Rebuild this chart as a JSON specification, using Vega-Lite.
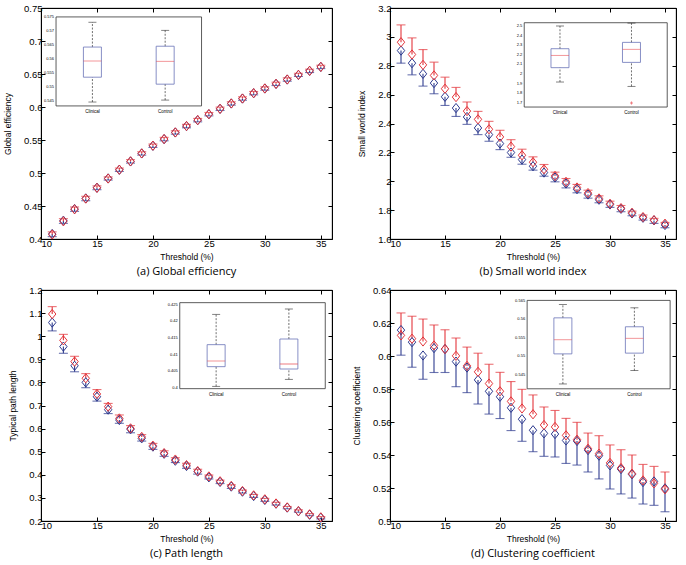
{
"$schema": "https://vega.github.io/schema/vega-lite/v6.json",
"background": "white",
"padding": {"left": 3, "top": 2, "right": 8, "bottom": 3},
"config": {
  "font": "Liberation Sans",
  "view": {"stroke": "#000", "strokeWidth": 0.8},
  "axis": {"grid": false, "domainColor": "#000", "tickColor": "#000", "labelColor": "#000", "titleColor": "#000", "labelFontSize": 9.5, "titleFontSize": 8.5, "titleFontWeight": "normal", "tickSize": -4, "labelPadding": 3, "labelOverlap": false, "labelFont": "Liberation Sans", "titleFont": "Liberation Sans"},
  "axisY": {"titlePadding": 11},
  "axisX": {"titlePadding": 5},
  "title": {"orient": "bottom", "font": "Open Sans", "fontSize": 11, "fontWeight": "normal", "color": "#000", "offset": 5, "anchor": "middle"}
},
"datasets": {
  "a": [
    {"t":11,"g":"Clinical","m":0.4076,"e":0.4036},{"t":11,"g":"Control","m":0.4068,"e":0.4108},
    {"t":12,"g":"Clinical","m":0.4277,"e":0.4237},{"t":12,"g":"Control","m":0.4268,"e":0.4308},
    {"t":13,"g":"Clinical","m":0.4454,"e":0.4419},{"t":13,"g":"Control","m":0.4450,"e":0.4485},
    {"t":14,"g":"Clinical","m":0.4615,"e":0.4580},{"t":14,"g":"Control","m":0.4612,"e":0.4647},
    {"t":15,"g":"Clinical","m":0.4777,"e":0.4747},{"t":15,"g":"Control","m":0.4775,"e":0.4805},
    {"t":16,"g":"Clinical","m":0.4918,"e":0.4893},{"t":16,"g":"Control","m":0.4916,"e":0.4941},
    {"t":17,"g":"Clinical","m":0.5049,"e":0.5024},{"t":17,"g":"Control","m":0.5050,"e":0.5075},
    {"t":18,"g":"Clinical","m":0.5175,"e":0.5150},{"t":18,"g":"Control","m":0.5177,"e":0.5202},
    {"t":19,"g":"Clinical","m":0.5296,"e":0.5271},{"t":19,"g":"Control","m":0.5297,"e":0.5322},
    {"t":20,"g":"Clinical","m":0.5412,"e":0.5387},{"t":20,"g":"Control","m":0.5414,"e":0.5439},
    {"t":21,"g":"Clinical","m":0.5513,"e":0.5488},{"t":21,"g":"Control","m":0.5515,"e":0.5540},
    {"t":22,"g":"Clinical","m":0.5614,"e":0.5589},{"t":22,"g":"Control","m":0.5615,"e":0.5640},
    {"t":23,"g":"Clinical","m":0.5710,"e":0.5685},{"t":23,"g":"Control","m":0.5712,"e":0.5737},
    {"t":24,"g":"Clinical","m":0.5800,"e":0.5775},{"t":24,"g":"Control","m":0.5802,"e":0.5827},
    {"t":25,"g":"Clinical","m":0.5891,"e":0.5866},{"t":25,"g":"Control","m":0.5892,"e":0.5917},
    {"t":26,"g":"Clinical","m":0.5972,"e":0.5947},{"t":26,"g":"Control","m":0.5973,"e":0.5998},
    {"t":27,"g":"Clinical","m":0.6053,"e":0.6028},{"t":27,"g":"Control","m":0.6054,"e":0.6079},
    {"t":28,"g":"Clinical","m":0.6128,"e":0.6103},{"t":28,"g":"Control","m":0.6129,"e":0.6154},
    {"t":29,"g":"Clinical","m":0.6209,"e":0.6184},{"t":29,"g":"Control","m":0.6210,"e":0.6235},
    {"t":30,"g":"Clinical","m":0.6280,"e":0.6255},{"t":30,"g":"Control","m":0.6281,"e":0.6306},
    {"t":31,"g":"Clinical","m":0.6350,"e":0.6325},{"t":31,"g":"Control","m":0.6351,"e":0.6376},
    {"t":32,"g":"Clinical","m":0.6416,"e":0.6391},{"t":32,"g":"Control","m":0.6417,"e":0.6442},
    {"t":33,"g":"Clinical","m":0.6486,"e":0.6461},{"t":33,"g":"Control","m":0.6487,"e":0.6512},
    {"t":34,"g":"Clinical","m":0.6547,"e":0.6522},{"t":34,"g":"Control","m":0.6548,"e":0.6573},
    {"t":35,"g":"Clinical","m":0.6607,"e":0.6582},{"t":35,"g":"Control","m":0.6608,"e":0.6633}
  ],
  "b": [
    {"t":11,"g":"Clinical","m":2.905,"e":2.818},{"t":11,"g":"Control","m":2.963,"e":3.083},
    {"t":12,"g":"Clinical","m":2.818,"e":2.737},{"t":12,"g":"Control","m":2.878,"e":2.993},
    {"t":13,"g":"Clinical","m":2.744,"e":2.659},{"t":13,"g":"Control","m":2.806,"e":2.912},
    {"t":14,"g":"Clinical","m":2.680,"e":2.606},{"t":14,"g":"Control","m":2.733,"e":2.825},
    {"t":15,"g":"Clinical","m":2.585,"e":2.525},{"t":15,"g":"Control","m":2.641,"e":2.721},
    {"t":16,"g":"Clinical","m":2.507,"e":2.449},{"t":16,"g":"Control","m":2.583,"e":2.650},
    {"t":17,"g":"Clinical","m":2.445,"e":2.394},{"t":17,"g":"Control","m":2.486,"e":2.549},
    {"t":18,"g":"Clinical","m":2.369,"e":2.323},{"t":18,"g":"Control","m":2.429,"e":2.484},
    {"t":19,"g":"Clinical","m":2.323,"e":2.277},{"t":19,"g":"Control","m":2.360,"e":2.415},
    {"t":20,"g":"Clinical","m":2.261,"e":2.219},{"t":20,"g":"Control","m":2.307,"e":2.353},
    {"t":21,"g":"Clinical","m":2.199,"e":2.166},{"t":21,"g":"Control","m":2.240,"e":2.288},
    {"t":22,"g":"Clinical","m":2.150,"e":2.118},{"t":22,"g":"Control","m":2.180,"e":2.222},
    {"t":23,"g":"Clinical","m":2.104,"e":2.077},{"t":23,"g":"Control","m":2.132,"e":2.169},
    {"t":24,"g":"Clinical","m":2.060,"e":2.035},{"t":24,"g":"Control","m":2.083,"e":2.116},
    {"t":25,"g":"Clinical","m":2.026,"e":1.996},{"t":25,"g":"Control","m":2.037,"e":2.063},
    {"t":26,"g":"Clinical","m":1.984,"e":1.954},{"t":26,"g":"Control","m":1.996,"e":2.019},
    {"t":27,"g":"Clinical","m":1.945,"e":1.920},{"t":27,"g":"Control","m":1.957,"e":1.978},
    {"t":28,"g":"Clinical","m":1.908,"e":1.883},{"t":28,"g":"Control","m":1.918,"e":1.938},
    {"t":29,"g":"Clinical","m":1.872,"e":1.851},{"t":29,"g":"Control","m":1.881,"e":1.899},
    {"t":30,"g":"Clinical","m":1.839,"e":1.819},{"t":30,"g":"Control","m":1.844,"e":1.862},
    {"t":31,"g":"Clinical","m":1.809,"e":1.789},{"t":31,"g":"Control","m":1.814,"e":1.832},
    {"t":32,"g":"Clinical","m":1.777,"e":1.761},{"t":32,"g":"Control","m":1.782,"e":1.793},
    {"t":33,"g":"Clinical","m":1.747,"e":1.731},{"t":33,"g":"Control","m":1.752,"e":1.766},
    {"t":34,"g":"Clinical","m":1.729,"e":1.708},{"t":34,"g":"Control","m":1.731,"e":1.743},
    {"t":35,"g":"Clinical","m":1.697,"e":1.678},{"t":35,"g":"Control","m":1.706,"e":1.715}
  ],
  "c": [
    {"t":11,"g":"Clinical","m":1.059,"e":1.023},{"t":11,"g":"Control","m":1.096,"e":1.128},
    {"t":12,"g":"Clinical","m":0.955,"e":0.926},{"t":12,"g":"Control","m":0.982,"e":1.008},
    {"t":13,"g":"Clinical","m":0.872,"e":0.846},{"t":13,"g":"Control","m":0.890,"e":0.913},
    {"t":14,"g":"Clinical","m":0.800,"e":0.777},{"t":14,"g":"Control","m":0.818,"e":0.838},
    {"t":15,"g":"Clinical","m":0.738,"e":0.719},{"t":15,"g":"Control","m":0.750,"e":0.769},
    {"t":16,"g":"Clinical","m":0.682,"e":0.665},{"t":16,"g":"Control","m":0.695,"e":0.709},
    {"t":17,"g":"Clinical","m":0.637,"e":0.623},{"t":17,"g":"Control","m":0.644,"e":0.659},
    {"t":18,"g":"Clinical","m":0.597,"e":0.582},{"t":18,"g":"Control","m":0.601,"e":0.613},
    {"t":19,"g":"Clinical","m":0.558,"e":0.546},{"t":19,"g":"Control","m":0.564,"e":0.574},
    {"t":20,"g":"Clinical","m":0.522,"e":0.510},{"t":20,"g":"Control","m":0.526,"e":0.536},
    {"t":21,"g":"Clinical","m":0.491,"e":0.480},{"t":21,"g":"Control","m":0.494,"e":0.504},
    {"t":22,"g":"Clinical","m":0.461,"e":0.453},{"t":22,"g":"Control","m":0.466,"e":0.474},
    {"t":23,"g":"Clinical","m":0.438,"e":0.428},{"t":23,"g":"Control","m":0.442,"e":0.450},
    {"t":24,"g":"Clinical","m":0.414,"e":0.403},{"t":24,"g":"Control","m":0.416,"e":0.424},
    {"t":25,"g":"Clinical","m":0.389,"e":0.382},{"t":25,"g":"Control","m":0.393,"e":0.399},
    {"t":26,"g":"Clinical","m":0.369,"e":0.362},{"t":26,"g":"Control","m":0.372,"e":0.377},
    {"t":27,"g":"Clinical","m":0.349,"e":0.341},{"t":27,"g":"Control","m":0.352,"e":0.357},
    {"t":28,"g":"Clinical","m":0.327,"e":0.321},{"t":28,"g":"Control","m":0.330,"e":0.334},
    {"t":29,"g":"Clinical","m":0.308,"e":0.302},{"t":29,"g":"Control","m":0.311,"e":0.315},
    {"t":30,"g":"Clinical","m":0.291,"e":0.285},{"t":30,"g":"Control","m":0.294,"e":0.298},
    {"t":31,"g":"Clinical","m":0.275,"e":0.269},{"t":31,"g":"Control","m":0.276,"e":0.281},
    {"t":32,"g":"Clinical","m":0.258,"e":0.253},{"t":32,"g":"Control","m":0.259,"e":0.263},
    {"t":33,"g":"Clinical","m":0.242,"e":0.238},{"t":33,"g":"Control","m":0.243,"e":0.248},
    {"t":34,"g":"Clinical","m":0.227,"e":0.223},{"t":34,"g":"Control","m":0.229,"e":0.232},
    {"t":35,"g":"Clinical","m":0.214,"e":0.209},{"t":35,"g":"Control","m":0.216,"e":0.219}
  ],
  "d": [
    {"t":11,"g":"Clinical","m":0.6157,"e":0.6005},{"t":11,"g":"Control","m":0.6125,"e":0.6261},
    {"t":12,"g":"Clinical","m":0.6084,"e":0.5932},{"t":12,"g":"Control","m":0.6105,"e":0.6241},
    {"t":13,"g":"Clinical","m":0.6003,"e":0.5859},{"t":13,"g":"Control","m":0.6088,"e":0.6224},
    {"t":14,"g":"Clinical","m":0.6048,"e":0.5900},{"t":14,"g":"Control","m":0.6064,"e":0.6188},
    {"t":15,"g":"Clinical","m":0.6042,"e":0.5900},{"t":15,"g":"Control","m":0.6042,"e":0.6159},
    {"t":16,"g":"Clinical","m":0.5966,"e":0.5814},{"t":16,"g":"Control","m":0.6001,"e":0.6109},
    {"t":17,"g":"Clinical","m":0.5930,"e":0.5778},{"t":17,"g":"Control","m":0.5940,"e":0.6054},
    {"t":18,"g":"Clinical","m":0.5855,"e":0.5709},{"t":18,"g":"Control","m":0.5904,"e":0.6017},
    {"t":19,"g":"Clinical","m":0.5786,"e":0.5648},{"t":19,"g":"Control","m":0.5833,"e":0.5950},
    {"t":20,"g":"Clinical","m":0.5753,"e":0.5621},{"t":20,"g":"Control","m":0.5786,"e":0.5901},
    {"t":21,"g":"Clinical","m":0.5686,"e":0.5548},{"t":21,"g":"Control","m":0.5725,"e":0.5845},
    {"t":22,"g":"Clinical","m":0.5617,"e":0.5483},{"t":22,"g":"Control","m":0.5682,"e":0.5798},
    {"t":23,"g":"Clinical","m":0.5550,"e":0.5420},{"t":23,"g":"Control","m":0.5647,"e":0.5764},
    {"t":24,"g":"Clinical","m":0.5531,"e":0.5392},{"t":24,"g":"Control","m":0.5582,"e":0.5691},
    {"t":25,"g":"Clinical","m":0.5527,"e":0.5388},{"t":25,"g":"Control","m":0.5570,"e":0.5670},
    {"t":26,"g":"Clinical","m":0.5488,"e":0.5349},{"t":26,"g":"Control","m":0.5519,"e":0.5622},
    {"t":27,"g":"Clinical","m":0.5485,"e":0.5339},{"t":27,"g":"Control","m":0.5493,"e":0.5598},
    {"t":28,"g":"Clinical","m":0.5430,"e":0.5297},{"t":28,"g":"Control","m":0.5438,"e":0.5533},
    {"t":29,"g":"Clinical","m":0.5396,"e":0.5255},{"t":29,"g":"Control","m":0.5408,"e":0.5517},
    {"t":30,"g":"Clinical","m":0.5337,"e":0.5194},{"t":30,"g":"Control","m":0.5352,"e":0.5461},
    {"t":31,"g":"Clinical","m":0.5315,"e":0.5164},{"t":31,"g":"Control","m":0.5321,"e":0.5432},
    {"t":32,"g":"Clinical","m":0.5283,"e":0.5139},{"t":32,"g":"Control","m":0.5287,"e":0.5400},
    {"t":33,"g":"Clinical","m":0.5236,"e":0.5103},{"t":33,"g":"Control","m":0.5246,"e":0.5343},
    {"t":34,"g":"Clinical","m":0.5240,"e":0.5095},{"t":34,"g":"Control","m":0.5228,"e":0.5331},
    {"t":35,"g":"Clinical","m":0.5198,"e":0.5056},{"t":35,"g":"Control","m":0.5192,"e":0.5297}
  ],
  "boxA": [{"g":"Clinical","lo":0.5445,"q1":0.5534,"med":0.5592,"q3":0.5642,"hi":0.5731},{"g":"Control","lo":0.5452,"q1":0.5509,"med":0.5591,"q3":0.5645,"hi":0.5702}],
  "boxB": [{"g":"Clinical","lo":1.918,"q1":2.067,"med":2.195,"q3":2.264,"hi":2.50},{"g":"Control","lo":1.873,"q1":2.122,"med":2.258,"q3":2.330,"hi":2.530}],
  "boxC": [{"g":"Clinical","lo":0.4005,"q1":0.4064,"med":0.4081,"q3":0.4130,"hi":0.4221},{"g":"Control","lo":0.4026,"q1":0.4057,"med":0.4072,"q3":0.4147,"hi":0.4237}],
  "boxD": [{"g":"Clinical","lo":0.5426,"q1":0.5507,"med":0.5545,"q3":0.5604,"hi":0.5640},{"g":"Control","lo":0.5462,"q1":0.5509,"med":0.5549,"q3":0.5580,"hi":0.5631}],
  "outB": [{"g":"Control","v":1.70}],
  "tkA": [{"v":0.545},{"v":0.55},{"v":0.555},{"v":0.56},{"v":0.565},{"v":0.57},{"v":0.575}],
  "tkB": [{"v":1.7},{"v":1.8},{"v":1.9},{"v":2},{"v":2.1},{"v":2.2},{"v":2.3},{"v":2.4},{"v":2.5}],
  "tkC": [{"v":0.4},{"v":0.405},{"v":0.41},{"v":0.415},{"v":0.42},{"v":0.425}],
  "tkD": [{"v":0.545},{"v":0.55},{"v":0.555},{"v":0.56},{"v":0.565}]
},
"columns": 2,
"spacing": {"row": 6, "column": 19},
"concat": [
 {
  "width": 291, "height": 231,
  "title": {"text": "(a) Global efficiency"},
  "resolve": {"scale": {"x": "independent", "y": "independent"}},
  "layer": [
   {
    "data": {"name": "a"},
    "encoding": {
      "color": {"field": "g", "type": "nominal", "scale": {"domain": ["Clinical","Control"], "range": ["#2e3b8f","#e3353b"]}, "legend": null}
    },
    "resolve": {"axis": {"x": "independent", "y": "independent"}},
    "layer": [
      {"mark": {"type": "rule", "strokeWidth": 1.1}, "encoding": {
        "x": {"field": "t", "type": "quantitative", "scale": {"domain": [10, 36], "nice": false}, "axis": {"values": [10,15,20,25,30,35], "title": "Threshold (%)"}},
        "y": {"field": "m", "type": "quantitative", "scale": {"domain": [0.4, 0.75], "nice": false, "zero": false}, "axis": {"values": [0.4,0.45,0.5,0.55,0.6,0.65,0.7,0.75], "format": "~g", "title": "Global efficiency"}}, "y2": {"field": "e"}}},
      {"mark": {"type": "tick", "orient": "horizontal", "size": 9, "thickness": 1.1}, "encoding": {
        "x": {"field": "t", "type": "quantitative", "axis": {"orient": "top", "values": [10,15,20,25,30,35], "labels": false, "title": null}},
        "y": {"field": "e", "type": "quantitative", "axis": {"orient": "right", "values": [0.4,0.45,0.5,0.55,0.6,0.65,0.7,0.75], "labels": false, "title": null}}}},
      {"mark": {"type": "point", "shape": "M-0.8,0L0,-1L0.8,0L0,1Z", "filled": false, "size": 85, "strokeWidth": 1, "opacity": 1}, "encoding": {
        "x": {"field": "t", "type": "quantitative", "axis": null},
        "y": {"field": "m", "type": "quantitative", "axis": null}}}
    ]
   },
   {
    "layer": [
      {"data": {"values": [{}]}, "mark": {"type": "rect", "fill": "white", "stroke": "#333", "strokeWidth": 0.8},
       "encoding": {
        "x": {"datum": "Clinical", "type": "nominal", "bandPosition": 0, "scale": {"type": "band", "domain": ["Clinical","Control"], "paddingInner": 0, "paddingOuter": 1.487, "align": 0.1034}, "axis": null},
        "x2": {"datum": "Control", "bandPosition": 1},
        "y": {"datum": 0.575, "type": "quantitative", "scale": {"domain": [0.4954, 0.5782], "nice": false, "zero": false}, "axis": null},
        "y2": {"datum": 0.5431}}},
      {"data": {"name": "tkA"}, "mark": {"type": "text", "align": "right", "dx": -2, "fontSize": 4, "baseline": "middle"},
       "encoding": {"x": {"datum": "Clinical", "type": "nominal", "bandPosition": 0, "axis": null}, "y": {"field": "v", "type": "quantitative", "axis": null}, "text": {"field": "v", "type": "nominal"}}},
      {"data": {"name": "boxA"},
       "encoding": {"x": {"field": "g", "type": "nominal", "axis": null}},
       "layer": [
         {"mark": {"type": "rule", "color": "#333", "strokeDash": [2,1.5], "strokeWidth": 0.7}, "encoding": {"y": {"field": "q3", "type": "quantitative", "axis": null}, "y2": {"field": "hi"}}},
         {"mark": {"type": "rule", "color": "#333", "strokeDash": [2,1.5], "strokeWidth": 0.7}, "encoding": {"y": {"field": "lo", "type": "quantitative", "axis": null}, "y2": {"field": "q1"}}},
         {"mark": {"type": "tick", "orient": "horizontal", "size": 8, "thickness": 0.8, "color": "#222"}, "encoding": {"y": {"field": "hi", "type": "quantitative", "axis": null}}},
         {"mark": {"type": "tick", "orient": "horizontal", "size": 8, "thickness": 0.8, "color": "#222"}, "encoding": {"y": {"field": "lo", "type": "quantitative", "axis": null}}},
         {"mark": {"type": "bar", "width": 18, "fill": "white", "fillOpacity": 0, "stroke": "#6a74b8", "strokeWidth": 0.8}, "encoding": {"y": {"field": "q1", "type": "quantitative", "axis": null}, "y2": {"field": "q3"}}},
         {"mark": {"type": "tick", "orient": "horizontal", "size": 18, "thickness": 0.8, "color": "#e8454a"}, "encoding": {"y": {"field": "med", "type": "quantitative", "axis": null}}},
         {"mark": {"type": "text", "fontSize": 4.5, "baseline": "top", "dy": 3}, "encoding": {"y": {"datum": 0.5431, "type": "quantitative", "axis": null}, "text": {"field": "g"}}}
       ]}
    ]
   }
  ]
 },
 {
  "width": 286, "height": 231,
  "title": {"text": "(b) Small world index"},
  "resolve": {"scale": {"x": "independent", "y": "independent"}},
  "layer": [
   {
    "data": {"name": "b"},
    "encoding": {
      "color": {"field": "g", "type": "nominal", "scale": {"domain": ["Clinical","Control"], "range": ["#2e3b8f","#e3353b"]}, "legend": null}
    },
    "resolve": {"axis": {"x": "independent", "y": "independent"}},
    "layer": [
      {"mark": {"type": "rule", "strokeWidth": 1.1}, "encoding": {
        "x": {"field": "t", "type": "quantitative", "scale": {"domain": [10, 36], "nice": false}, "axis": {"values": [10,15,20,25,30,35], "title": "Threshold (%)"}},
        "y": {"field": "m", "type": "quantitative", "scale": {"domain": [1.6, 3.2], "nice": false, "zero": false}, "axis": {"values": [1.6,1.8,2,2.2,2.4,2.6,2.8,3,3.2], "format": "~g", "title": "Small world index"}}, "y2": {"field": "e"}}},
      {"mark": {"type": "tick", "orient": "horizontal", "size": 9, "thickness": 1.1}, "encoding": {
        "x": {"field": "t", "type": "quantitative", "axis": {"orient": "top", "values": [10,15,20,25,30,35], "labels": false, "title": null}},
        "y": {"field": "e", "type": "quantitative", "axis": {"orient": "right", "values": [1.6,1.8,2,2.2,2.4,2.6,2.8,3,3.2], "labels": false, "title": null}}}},
      {"mark": {"type": "point", "shape": "M-0.8,0L0,-1L0.8,0L0,1Z", "filled": false, "size": 85, "strokeWidth": 1, "opacity": 1}, "encoding": {
        "x": {"field": "t", "type": "quantitative", "axis": null},
        "y": {"field": "m", "type": "quantitative", "axis": null}}}
    ]
   },
   {
    "layer": [
      {"data": {"values": [{}]}, "mark": {"type": "rect", "fill": "white", "stroke": "#333", "strokeWidth": 0.8},
       "encoding": {
        "x": {"datum": "Clinical", "type": "nominal", "bandPosition": 0, "scale": {"type": "band", "domain": ["Clinical","Control"], "paddingInner": 0, "paddingOuter": 1.325, "align": 0.9387}, "axis": null},
        "x2": {"datum": "Control", "bandPosition": 1},
        "y": {"datum": 2.534, "type": "quantitative", "scale": {"domain": [0.287, 2.687], "nice": false, "zero": false}, "axis": null},
        "y2": {"datum": 1.658}}},
      {"data": {"name": "tkB"}, "mark": {"type": "text", "align": "right", "dx": -2, "fontSize": 4, "baseline": "middle"},
       "encoding": {"x": {"datum": "Clinical", "type": "nominal", "bandPosition": 0, "axis": null}, "y": {"field": "v", "type": "quantitative", "axis": null}, "text": {"field": "v", "type": "nominal"}}},
      {"data": {"name": "outB"}, "mark": {"type": "point", "shape": "cross", "size": 8, "color": "#e8454a", "filled": true},
       "encoding": {"x": {"field": "g", "type": "nominal", "axis": null}, "y": {"field": "v", "type": "quantitative", "axis": null}}},
      {"data": {"name": "boxB"},
       "encoding": {"x": {"field": "g", "type": "nominal", "axis": null}},
       "layer": [
         {"mark": {"type": "rule", "color": "#333", "strokeDash": [2,1.5], "strokeWidth": 0.7}, "encoding": {"y": {"field": "q3", "type": "quantitative", "axis": null}, "y2": {"field": "hi"}}},
         {"mark": {"type": "rule", "color": "#333", "strokeDash": [2,1.5], "strokeWidth": 0.7}, "encoding": {"y": {"field": "lo", "type": "quantitative", "axis": null}, "y2": {"field": "q1"}}},
         {"mark": {"type": "tick", "orient": "horizontal", "size": 8, "thickness": 0.8, "color": "#222"}, "encoding": {"y": {"field": "hi", "type": "quantitative", "axis": null}}},
         {"mark": {"type": "tick", "orient": "horizontal", "size": 8, "thickness": 0.8, "color": "#222"}, "encoding": {"y": {"field": "lo", "type": "quantitative", "axis": null}}},
         {"mark": {"type": "bar", "width": 18, "fill": "white", "fillOpacity": 0, "stroke": "#6a74b8", "strokeWidth": 0.8}, "encoding": {"y": {"field": "q1", "type": "quantitative", "axis": null}, "y2": {"field": "q3"}}},
         {"mark": {"type": "tick", "orient": "horizontal", "size": 18, "thickness": 0.8, "color": "#e8454a"}, "encoding": {"y": {"field": "med", "type": "quantitative", "axis": null}}},
         {"mark": {"type": "text", "fontSize": 4.5, "baseline": "top", "dy": 3}, "encoding": {"y": {"datum": 1.658, "type": "quantitative", "axis": null}, "text": {"field": "g"}}}
       ]}
    ]
   }
  ]
 },
 {
  "width": 291, "height": 231,
  "title": {"text": "(c) Path length"},
  "resolve": {"scale": {"x": "independent", "y": "independent"}},
  "layer": [
   {
    "data": {"name": "c"},
    "encoding": {
      "color": {"field": "g", "type": "nominal", "scale": {"domain": ["Clinical","Control"], "range": ["#2e3b8f","#e3353b"]}, "legend": null}
    },
    "resolve": {"axis": {"x": "independent", "y": "independent"}},
    "layer": [
      {"mark": {"type": "rule", "strokeWidth": 1.1}, "encoding": {
        "x": {"field": "t", "type": "quantitative", "scale": {"domain": [10, 36], "nice": false}, "axis": {"values": [10,15,20,25,30,35], "title": "Threshold (%)"}},
        "y": {"field": "m", "type": "quantitative", "scale": {"domain": [0.2, 1.2], "nice": false, "zero": false}, "axis": {"values": [0.2,0.3,0.4,0.5,0.6,0.7,0.8,0.9,1,1.1,1.2], "format": "~g", "title": "Typical path length"}}, "y2": {"field": "e"}}},
      {"mark": {"type": "tick", "orient": "horizontal", "size": 9, "thickness": 1.1}, "encoding": {
        "x": {"field": "t", "type": "quantitative", "axis": {"orient": "top", "values": [10,15,20,25,30,35], "labels": false, "title": null}},
        "y": {"field": "e", "type": "quantitative", "axis": {"orient": "right", "values": [0.2,0.3,0.4,0.5,0.6,0.7,0.8,0.9,1,1.1,1.2], "labels": false, "title": null}}}},
      {"mark": {"type": "point", "shape": "M-0.8,0L0,-1L0.8,0L0,1Z", "filled": false, "size": 85, "strokeWidth": 1, "opacity": 1}, "encoding": {
        "x": {"field": "t", "type": "quantitative", "axis": null},
        "y": {"field": "m", "type": "quantitative", "axis": null}}}
    ]
   },
   {
    "layer": [
      {"data": {"values": [{}]}, "mark": {"type": "rect", "fill": "white", "stroke": "#333", "strokeWidth": 0.8},
       "encoding": {
        "x": {"datum": "Clinical", "type": "nominal", "bandPosition": 0, "scale": {"type": "band", "domain": ["Clinical","Control"], "paddingInner": 0, "paddingOuter": 1.46, "align": 0.9537}, "axis": null},
        "x2": {"datum": "Control", "bandPosition": 1},
        "y": {"datum": 0.4256, "type": "quantitative", "scale": {"domain": [0.3601, 0.4294], "nice": false, "zero": false}, "axis": null},
        "y2": {"datum": 0.3998}}},
      {"data": {"name": "tkC"}, "mark": {"type": "text", "align": "right", "dx": -2, "fontSize": 4, "baseline": "middle"},
       "encoding": {"x": {"datum": "Clinical", "type": "nominal", "bandPosition": 0, "axis": null}, "y": {"field": "v", "type": "quantitative", "axis": null}, "text": {"field": "v", "type": "nominal"}}},
      {"data": {"name": "boxC"},
       "encoding": {"x": {"field": "g", "type": "nominal", "axis": null}},
       "layer": [
         {"mark": {"type": "rule", "color": "#333", "strokeDash": [2,1.5], "strokeWidth": 0.7}, "encoding": {"y": {"field": "q3", "type": "quantitative", "axis": null}, "y2": {"field": "hi"}}},
         {"mark": {"type": "rule", "color": "#333", "strokeDash": [2,1.5], "strokeWidth": 0.7}, "encoding": {"y": {"field": "lo", "type": "quantitative", "axis": null}, "y2": {"field": "q1"}}},
         {"mark": {"type": "tick", "orient": "horizontal", "size": 8, "thickness": 0.8, "color": "#222"}, "encoding": {"y": {"field": "hi", "type": "quantitative", "axis": null}}},
         {"mark": {"type": "tick", "orient": "horizontal", "size": 8, "thickness": 0.8, "color": "#222"}, "encoding": {"y": {"field": "lo", "type": "quantitative", "axis": null}}},
         {"mark": {"type": "bar", "width": 18, "fill": "white", "fillOpacity": 0, "stroke": "#6a74b8", "strokeWidth": 0.8}, "encoding": {"y": {"field": "q1", "type": "quantitative", "axis": null}, "y2": {"field": "q3"}}},
         {"mark": {"type": "tick", "orient": "horizontal", "size": 18, "thickness": 0.8, "color": "#e8454a"}, "encoding": {"y": {"field": "med", "type": "quantitative", "axis": null}}},
         {"mark": {"type": "text", "fontSize": 4.5, "baseline": "top", "dy": 3}, "encoding": {"y": {"datum": 0.3998, "type": "quantitative", "axis": null}, "text": {"field": "g"}}}
       ]}
    ]
   }
  ]
 },
 {
  "width": 286, "height": 231,
  "title": {"text": "(d) Clustering coefficient"},
  "resolve": {"scale": {"x": "independent", "y": "independent"}},
  "layer": [
   {
    "data": {"name": "d"},
    "encoding": {
      "color": {"field": "g", "type": "nominal", "scale": {"domain": ["Clinical","Control"], "range": ["#2e3b8f","#e3353b"]}, "legend": null}
    },
    "resolve": {"axis": {"x": "independent", "y": "independent"}},
    "layer": [
      {"mark": {"type": "rule", "strokeWidth": 1.1}, "encoding": {
        "x": {"field": "t", "type": "quantitative", "scale": {"domain": [10, 36], "nice": false}, "axis": {"values": [10,15,20,25,30,35], "title": "Threshold (%)"}},
        "y": {"field": "m", "type": "quantitative", "scale": {"domain": [0.5, 0.64], "nice": false, "zero": false}, "axis": {"values": [0.5,0.52,0.54,0.56,0.58,0.6,0.62,0.64], "format": "~g", "title": "Clustering coefficient"}}, "y2": {"field": "e"}}},
      {"mark": {"type": "tick", "orient": "horizontal", "size": 9, "thickness": 1.1}, "encoding": {
        "x": {"field": "t", "type": "quantitative", "axis": {"orient": "top", "values": [10,15,20,25,30,35], "labels": false, "title": null}},
        "y": {"field": "e", "type": "quantitative", "axis": {"orient": "right", "values": [0.5,0.52,0.54,0.56,0.58,0.6,0.62,0.64], "labels": false, "title": null}}}},
      {"mark": {"type": "point", "shape": "M-0.8,0L0,-1L0.8,0L0,1Z", "filled": false, "size": 85, "strokeWidth": 1, "opacity": 1}, "encoding": {
        "x": {"field": "t", "type": "quantitative", "axis": null},
        "y": {"field": "m", "type": "quantitative", "axis": null}}}
    ]
   },
   {
    "layer": [
      {"data": {"values": [{}]}, "mark": {"type": "rect", "fill": "white", "stroke": "#333", "strokeWidth": 0.8},
       "encoding": {
        "x": {"datum": "Clinical", "type": "nominal", "bandPosition": 0, "scale": {"type": "band", "domain": ["Clinical","Control"], "paddingInner": 0, "paddingOuter": 1.487, "align": 0.959}, "axis": null},
        "x2": {"datum": "Control", "bandPosition": 1},
        "y": {"datum": 0.5651, "type": "quantitative", "scale": {"domain": [0.5057, 0.5679], "nice": false, "zero": false}, "axis": null},
        "y2": {"datum": 0.5413}}},
      {"data": {"name": "tkD"}, "mark": {"type": "text", "align": "right", "dx": -2, "fontSize": 4, "baseline": "middle"},
       "encoding": {"x": {"datum": "Clinical", "type": "nominal", "bandPosition": 0, "axis": null}, "y": {"field": "v", "type": "quantitative", "axis": null}, "text": {"field": "v", "type": "nominal"}}},
      {"data": {"name": "boxD"},
       "encoding": {"x": {"field": "g", "type": "nominal", "axis": null}},
       "layer": [
         {"mark": {"type": "rule", "color": "#333", "strokeDash": [2,1.5], "strokeWidth": 0.7}, "encoding": {"y": {"field": "q3", "type": "quantitative", "axis": null}, "y2": {"field": "hi"}}},
         {"mark": {"type": "rule", "color": "#333", "strokeDash": [2,1.5], "strokeWidth": 0.7}, "encoding": {"y": {"field": "lo", "type": "quantitative", "axis": null}, "y2": {"field": "q1"}}},
         {"mark": {"type": "tick", "orient": "horizontal", "size": 8, "thickness": 0.8, "color": "#222"}, "encoding": {"y": {"field": "hi", "type": "quantitative", "axis": null}}},
         {"mark": {"type": "tick", "orient": "horizontal", "size": 8, "thickness": 0.8, "color": "#222"}, "encoding": {"y": {"field": "lo", "type": "quantitative", "axis": null}}},
         {"mark": {"type": "bar", "width": 18, "fill": "white", "fillOpacity": 0, "stroke": "#6a74b8", "strokeWidth": 0.8}, "encoding": {"y": {"field": "q1", "type": "quantitative", "axis": null}, "y2": {"field": "q3"}}},
         {"mark": {"type": "tick", "orient": "horizontal", "size": 18, "thickness": 0.8, "color": "#e8454a"}, "encoding": {"y": {"field": "med", "type": "quantitative", "axis": null}}},
         {"mark": {"type": "text", "fontSize": 4.5, "baseline": "top", "dy": 3}, "encoding": {"y": {"datum": 0.5413, "type": "quantitative", "axis": null}, "text": {"field": "g"}}}
       ]}
    ]
   }
  ]
 }
]
}
